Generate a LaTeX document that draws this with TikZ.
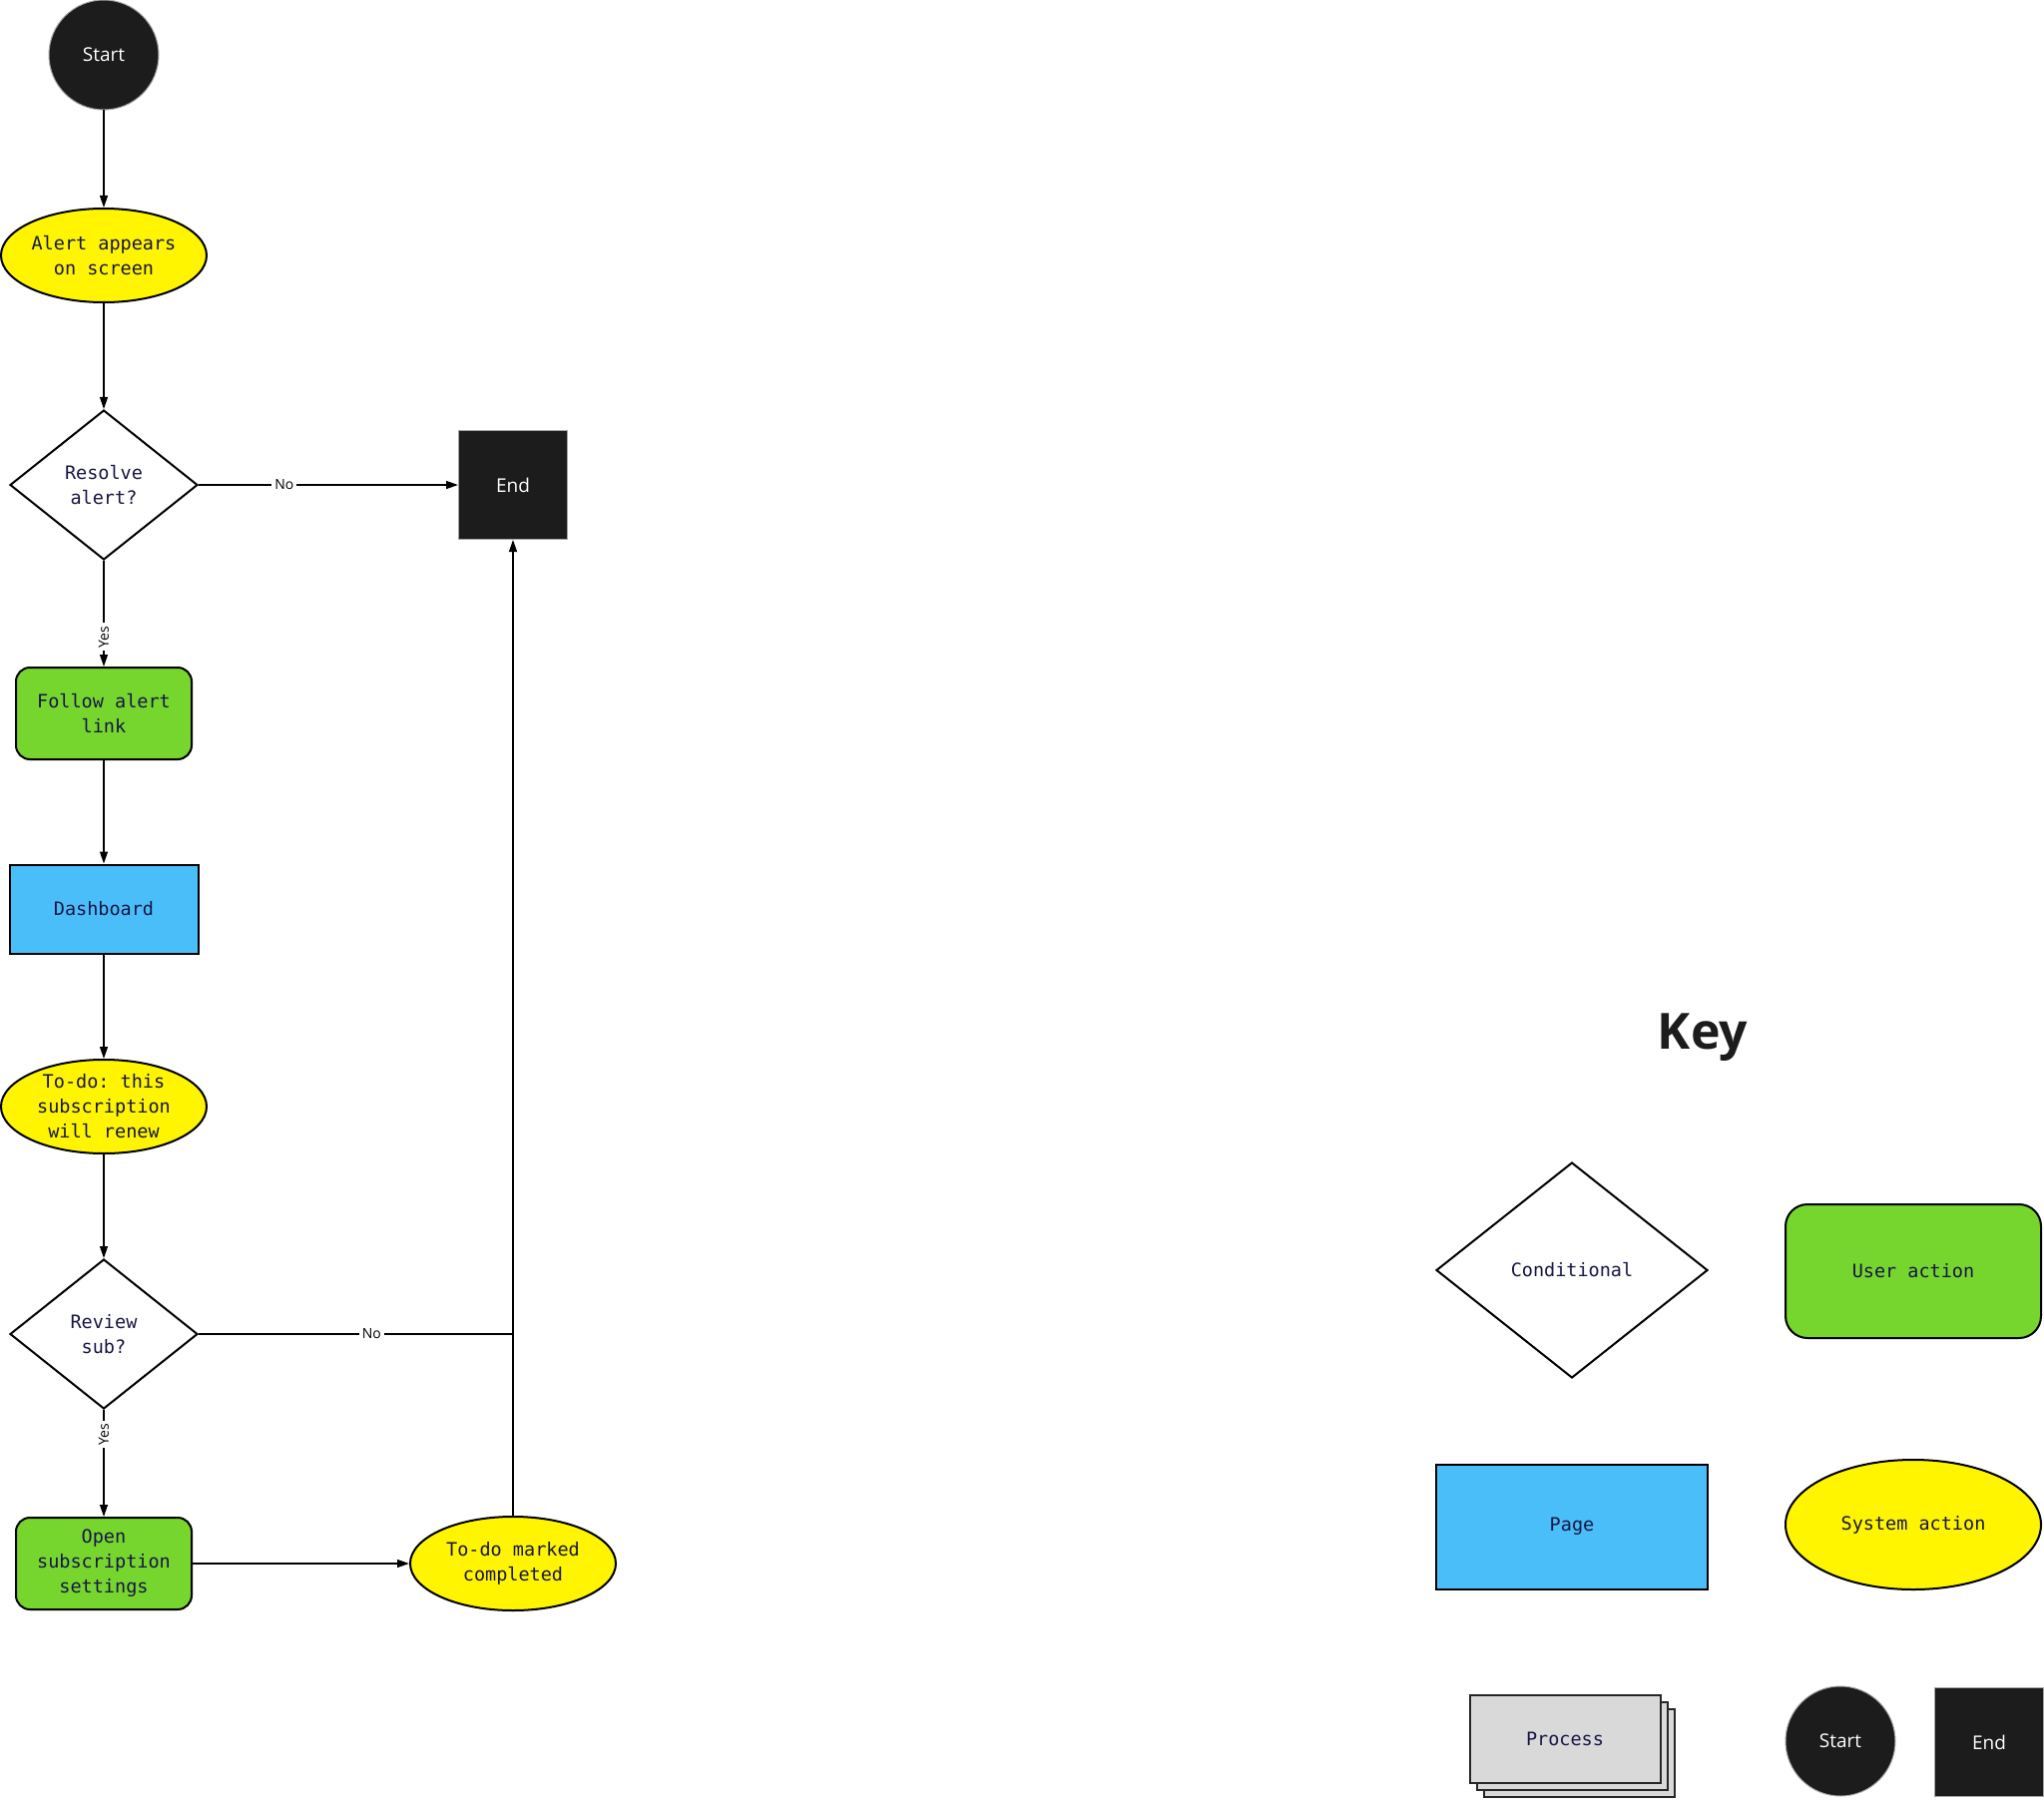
\documentclass[tikz,border=0pt]{standalone}
\usepackage{fontspec}
\setmainfont{Open Sans}
\setmonofont{DejaVu Sans Mono}
\usetikzlibrary{shapes.geometric,arrows.meta}

\definecolor{inkblue}{RGB}{24,22,70}
\definecolor{useract}{RGB}{118,214,46}
\definecolor{sysact}{RGB}{255,245,0}
\definecolor{pageblue}{RGB}{74,190,248}
\definecolor{termblack}{RGB}{28,28,28}
\definecolor{procgrey}{RGB}{217,217,217}

\tikzset{
  base/.style={draw=black, line width=2pt, align=center, text=inkblue, inner sep=0pt,
    font=\ttfamily\fontsize{18.5}{25}\selectfont},
  userbox/.style={base, rectangle, fill=useract, rounded corners=14pt, minimum width=176pt, minimum height=92pt},
  sysbox/.style={base, ellipse, fill=sysact, minimum width=206pt, minimum height=94pt},
  pagebox/.style={base, rectangle, fill=pageblue, minimum width=189pt, minimum height=89pt},
  condbox/.style={base, diamond, fill=white, minimum width=188pt, minimum height=150pt},
  procbox/.style={base, rectangle, draw=black!85, fill=procgrey, minimum width=191pt, minimum height=88pt},
  startbox/.style={circle, fill=termblack, draw=gray!70, line width=1pt, text=white, inner sep=0pt,
    minimum size=110pt, font=\fontsize{19}{22}\selectfont},
  endbox/.style={rectangle, fill=termblack, draw=gray!70, line width=1pt, text=white, inner sep=0pt,
    minimum size=109pt, font=\fontsize{19}{22}\selectfont},
  arr/.style={-{Triangle[length=12pt,width=8pt]}, line width=1.3pt},
  lbl/.style={fill=white, inner sep=3pt, text=black, font=\fontsize{14}{16}\selectfont},
}

\begin{document}
\begin{tikzpicture}[x=1pt, y=-1pt]
  \useasboundingbox[fill=white] (0,0) rectangle (2048,1811);

  % flow
  \node[startbox] (start) at (104,55) {Start};
  \node[sysbox] (alert) at (104,256) {Alert appears\\on screen};
  \node[condbox] (resolve) at (104,486) {Resolve\\alert?};
  \node[endbox] (endn) at (514,486) {End};
  \node[userbox] (follow) at (104,715) {Follow alert\\link};
  \node[pagebox] (dash) at (104,911) {Dashboard};
  \node[sysbox] (todo) at (104,1109) {To-do: this\\subscription\\will renew};
  \node[condbox] (review) at (104,1337) {Review\\sub?};
  \node[userbox] (opensub) at (104,1567) {Open\\subscription\\settings};
  \node[sysbox] (done) at (514,1567) {To-do marked\\completed};
  \coordinate (jn) at (514,1337);

  \draw[arr] (start) -- (alert);
  \draw[arr] (alert) -- (resolve);
  \draw[arr] (resolve) -- node[lbl, pos=0.33] {No} (endn);
  \draw[arr] (resolve) -- node[lbl, rotate=90, pos=0.72] {Yes} (follow);
  \draw[arr] (follow) -- (dash);
  \draw[arr] (dash) -- (todo);
  \draw[arr] (todo) -- (review);
  \draw[arr] (review) -- node[lbl, rotate=90, pos=0.23] {Yes} (opensub);
  \draw[line width=1.3pt] (review) -- node[lbl, pos=0.55] {No} (jn);
  \draw[arr] (opensub) -- (done);
  \draw[arr] (done) -- (endn);

  % key
  \node[text=termblack, font=\bfseries\fontsize{50}{60}\selectfont] (keyttl) at (1706,1040) {Key};
  \node[condbox, minimum width=272pt, minimum height=216pt] (kcond) at (1575,1273) {Conditional};
  \node[userbox, rounded corners=22pt, minimum width=256pt, minimum height=134pt] (kuser) at (1917,1274) {User action};
  \node[pagebox, minimum width=272pt, minimum height=125pt] (kpage) at (1575,1530) {Page};
  \node[sysbox, minimum width=256pt, minimum height=130pt] (ksys) at (1917,1528) {System action};
  \node[procbox] (kproc3) at (1582,1757) {};
  \node[procbox] (kproc2) at (1575,1750) {};
  \node[procbox] (kproc) at (1568,1743) {Process};
  \node[startbox] (kstart) at (1844,1745) {Start};
  \node[endbox] (kend) at (1993,1746) {End};
\end{tikzpicture}
\end{document}
